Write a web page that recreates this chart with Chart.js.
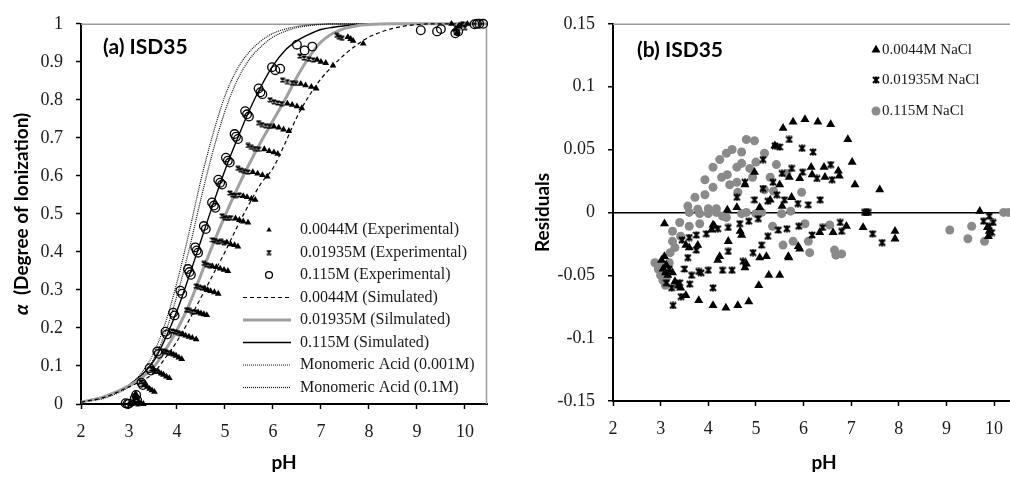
<!DOCTYPE html>
<html>
<head>
<meta charset="utf-8">
<script src="https://cdn.jsdelivr.net/npm/chart.js@4.4.0/dist/chart.umd.min.js"></script>
<style>
html,body{margin:0;padding:0;background:#fff;overflow:hidden;width:1010px;height:477px}
#wrapA{position:absolute;left:0;top:0;width:505px;height:477px}
#wrapB{position:absolute;left:505px;top:0;width:540px;height:477px}
canvas{display:block}
</style>
</head>
<body>
<div id="wrapA"><canvas id="cA" width="505" height="477"></canvas></div>
<div id="wrapB"><canvas id="cB" width="540" height="477"></canvas></div>
<script>
// ---------- axis ticks ----------
const phTicks = [2, 3, 4, 5, 6, 7, 8, 9, 10];
const alphaTicks = [0, 0.1, 0.2, 0.3, 0.4, 0.5, 0.6, 0.7, 0.8, 0.9, 1];
const residualTicks = [-0.15, -0.1, -0.05, 0, 0.05, 0.1, 0.15];

// ---------- (a) simulated curves ----------
const simPH = [2, 2.5, 3, 3.25, 3.5, 3.75, 4, 4.25, 4.5, 4.75, 5, 5.25, 5.5, 5.75, 6, 6.25, 6.5, 6.75, 7, 7.25, 7.5, 7.75, 8, 8.5, 9, 9.5, 10.46];
const sim0044 = [0.005, 0.018, 0.045, 0.06, 0.08, 0.12, 0.165, 0.22, 0.28, 0.34, 0.4, 0.465, 0.525, 0.58, 0.62, 0.685, 0.755, 0.81, 0.855, 0.89, 0.92, 0.945, 0.965, 0.988, 0.998, 1, 1];
const sim01935 = [0.005, 0.02, 0.048, 0.068, 0.095, 0.14, 0.195, 0.26, 0.34, 0.42, 0.495, 0.565, 0.63, 0.69, 0.745, 0.8, 0.86, 0.912, 0.952, 0.975, 0.988, 0.995, 0.998, 1, 1, 1, 1];
const sim0115 = [0.005, 0.02, 0.05, 0.075, 0.11, 0.17, 0.245, 0.335, 0.43, 0.525, 0.615, 0.695, 0.77, 0.835, 0.89, 0.93, 0.955, 0.972, 0.985, 0.991, 0.995, 0.998, 1, 1, 1, 1, 1];
const monoAcid0001 = [0.005, 0.017, 0.05, 0.08, 0.13, 0.21, 0.32, 0.45, 0.59, 0.71, 0.81, 0.88, 0.925, 0.955, 0.975, 0.986, 0.993, 0.997, 0.999, 1, 1, 1, 1, 1, 1, 1, 1];
const monoAcid01 = [0.005, 0.016, 0.045, 0.07, 0.115, 0.185, 0.285, 0.405, 0.54, 0.665, 0.77, 0.85, 0.905, 0.94, 0.965, 0.98, 0.99, 0.995, 0.998, 1, 1, 1, 1, 1, 1, 1, 1];

// ---------- (a) experimental titration points [pH, alpha] ----------
const exp0044 = [
  [3.05,0.0],[3.1,0.005],[3.12,0.02],[3.14,0.027],[3.16,0.015],[3.2,0.005],[3.25,0.002],[3.3,0.0],
  [3.33,0.05],[3.38,0.045],[3.43,0.04],[3.48,0.036],[3.53,0.032],
  [3.62,0.084],[3.67,0.08],[3.72,0.077],[3.78,0.072],[3.84,0.068],
  [3.88,0.133],[3.93,0.13],[3.98,0.127],[4.04,0.122],[4.1,0.118],
  [4.12,0.184],[4.18,0.18],[4.25,0.177],[4.32,0.174],[4.4,0.17],
  [4.44,0.241],[4.5,0.238],[4.56,0.236],[4.62,0.234],
  [4.58,0.304],[4.64,0.3],[4.7,0.297],[4.78,0.294],[4.86,0.29],
  [4.74,0.362],[4.82,0.36],[4.9,0.356],[4.98,0.353],[5.06,0.35],
  [5.04,0.425],[5.12,0.42],[5.2,0.418],[5.27,0.414],
  [5.22,0.488],[5.3,0.484],[5.38,0.48],[5.48,0.477],
  [5.38,0.547],[5.46,0.544],[5.55,0.54],[5.63,0.537],
  [5.58,0.61],[5.68,0.606],[5.78,0.602],[5.88,0.598],
  [5.82,0.67],[5.92,0.665],[6.02,0.662],[6.1,0.658],
  [6.02,0.73],[6.12,0.727],[6.22,0.722],[6.33,0.718],
  [6.3,0.79],[6.4,0.787],[6.5,0.783],[6.6,0.778],
  [6.58,0.842],[6.68,0.838],[6.8,0.834],[6.9,0.83],
  [6.92,0.905],[7.0,0.9],[7.1,0.897],[7.25,0.89],
  [7.56,0.965],[7.62,0.96],[7.67,0.955],[7.88,0.948],
  [9.72,1.0],[9.8,0.985],[9.83,0.975],[9.88,0.995],[10.05,1.0]
];
const exp01935 = [
  [3.02,0.0],[3.08,0.002],[3.13,0.01],[3.18,0.0],
  [3.25,0.058],[3.3,0.052],
  [3.47,0.092],[3.52,0.088],[3.57,0.086],
  [3.72,0.14],[3.77,0.137],[3.82,0.135],
  [3.9,0.192],[3.96,0.19],[4.02,0.188],[4.07,0.185],
  [4.2,0.248],[4.26,0.246],[4.32,0.243],[4.38,0.242],
  [4.4,0.31],[4.46,0.307],[4.52,0.305],
  [4.56,0.37],[4.62,0.366],[4.68,0.364],
  [4.74,0.432],[4.8,0.43],[4.86,0.426],[4.92,0.428],[4.98,0.424],
  [4.94,0.495],[5.0,0.49],[5.06,0.488],[5.12,0.49],
  [5.1,0.555],[5.16,0.55],[5.22,0.548],[5.3,0.55],
  [5.27,0.62],[5.33,0.615],[5.4,0.612],[5.48,0.61],
  [5.48,0.68],[5.55,0.675],[5.62,0.672],[5.7,0.67],
  [5.7,0.74],[5.77,0.735],[5.85,0.732],[5.93,0.73],
  [5.94,0.8],[6.02,0.795],[6.1,0.792],[6.18,0.79],
  [6.2,0.852],[6.3,0.848],[6.4,0.845],[6.48,0.843],
  [6.56,0.915],[6.65,0.91],[6.75,0.907],[6.84,0.905],
  [7.33,0.97],[7.38,0.965],[7.44,0.962],
  [9.82,0.99],[9.86,0.98],[9.9,0.995],[9.95,1.0],[10.0,0.99]
];
const exp0115 = [
  [2.93,0.002],[2.97,0.0],[3.0,0.001],[3.12,0.015],[3.15,0.024],[3.17,0.01],
  [3.26,0.056],[3.29,0.05],[3.43,0.094],[3.46,0.088],[3.59,0.138],[3.62,0.132],
  [3.76,0.19],[3.79,0.183],[3.92,0.24],[3.95,0.233],[4.07,0.298],[4.11,0.29],
  [4.23,0.355],[4.26,0.347],[4.29,0.34],[4.38,0.412],[4.41,0.404],[4.44,0.398],
  [4.56,0.468],[4.6,0.46],[4.73,0.53],[4.77,0.522],[4.8,0.516],
  [4.86,0.59],[4.9,0.582],[4.94,0.577],[5.02,0.648],[5.06,0.64],[5.1,0.635],
  [5.2,0.71],[5.23,0.703],[5.27,0.697],[5.42,0.77],[5.46,0.762],[5.5,0.756],
  [5.7,0.83],[5.74,0.82],[5.78,0.815],[5.98,0.886],[6.05,0.878],[6.15,0.882],
  [6.5,0.945],[6.66,0.93],[6.82,0.94],
  [9.08,0.983],[9.42,0.98],[9.5,0.986],[9.8,0.975],[9.86,0.98],
  [10.2,0.999],[10.25,1.0],[10.3,1.0],[10.38,1.0]
];

// ---------- (b) residuals [pH, residual] ----------
const resid0044 = [
  [3.02,-0.038],[3.05,-0.045],[3.08,-0.035],[3.1,-0.048],[3.12,-0.042],[3.15,-0.05],[3.25,-0.048],[3.3,-0.055],
  [3.42,-0.06],[3.53,-0.066],[3.8,-0.07],[4.1,-0.074],[4.37,-0.076],[4.62,-0.074],[4.85,-0.071],
  [5.06,-0.058],[5.27,-0.05],[5.5,-0.05],[5.69,-0.036],[5.89,-0.027],
  [3.53,-0.026],[3.6,-0.028],[3.78,-0.026],[4.07,-0.014],[4.13,-0.011],[4.2,-0.038],[4.24,-0.035],
  [4.42,-0.023],[4.67,-0.015],[4.7,-0.018],[4.77,-0.044],[4.8,-0.041],[5.08,-0.036],[5.22,-0.035],
  [5.68,-0.035],[5.92,-0.029],[6.34,-0.016],[6.62,-0.016],[6.9,-0.011],[7.25,-0.012],[7.92,-0.015],[7.92,-0.021],
  [3.08,-0.009],[4.1,-0.01],[4.4,0.002],[4.6,0.004],[4.77,0.022],[5.08,0.004],[5.3,0.01],[5.55,0.005],
  [5.75,0.012],[5.4,0.053],[5.5,0.022],[5.7,0.028],[5.92,0.027],[6.16,0.036],[6.18,0.03],[6.43,0.036],
  [6.45,0.028],[6.73,0.033],[6.75,0.029],[4.97,0.032],
  [5.57,0.067],[5.78,0.072],[6.03,0.074],[6.3,0.072],[6.57,0.07],[6.93,0.058],[7.02,0.04],[7.08,0.022],[7.6,0.018],
  [9.7,0.001],[9.86,-0.012],[9.88,-0.019],[9.9,-0.015]
];
const resid01935 = [
  [3.12,-0.056],[3.18,-0.045],[3.23,-0.06],[3.26,-0.074],[3.35,-0.058],[3.4,-0.056],[3.43,-0.067],[3.5,-0.045],
  [3.57,-0.036],[3.61,-0.057],[3.65,-0.05],[3.75,-0.03],[3.8,-0.047],[3.85,-0.048],[4.0,-0.046],[4.1,-0.06],
  [4.3,-0.046],[4.42,-0.031],[4.5,-0.046],[4.73,-0.039],[4.94,-0.032],[5.12,-0.026],[5.25,-0.019],
  [5.47,-0.014],[5.65,-0.013],[5.9,-0.011],[6.18,-0.018],[6.4,-0.012],[6.77,-0.008],[6.8,-0.015],[7.45,-0.017],[7.65,-0.024],
  [3.45,-0.022],[3.6,-0.02],[3.75,-0.018],[3.96,-0.017],[4.2,-0.013],[4.42,-0.012],[4.66,-0.009],[4.85,-0.007],
  [5.05,-0.005],[5.25,0.009],[5.44,0.014],[5.6,0.01],[4.6,0.012],[4.77,0.024],[4.97,0.01],[5.15,0.019],
  [5.36,0.024],[5.55,0.031],[5.75,0.035],[5.98,0.032],[5.15,0.042],[5.4,0.053],[5.5,0.052],[5.7,0.058],
  [5.97,0.051],[6.2,0.048],[6.57,0.038],[6.6,0.026],[6.28,0.027],[5.88,0.007],[6.1,0.006],[6.35,0.01],
  [7.28,0.0],[7.32,0.0],[7.36,0.0],
  [9.78,-0.007],[9.9,-0.003],[9.98,-0.008],[9.9,-0.011],[9.95,-0.016]
];
const resid0115 = [
  [2.88,-0.04],[2.95,-0.045],[3.0,-0.05],[3.02,-0.042],[3.05,-0.054],[3.08,-0.048],[3.1,-0.044],[3.12,-0.052],
  [3.15,-0.046],[3.18,-0.04],[3.1,-0.058],
  [3.2,-0.032],[3.25,-0.023],[3.25,-0.015],[3.3,-0.028],[3.4,-0.008],[3.42,-0.019],[3.57,0.005],[3.6,-0.011],
  [3.6,0.0],[3.72,0.012],[3.78,0.0025],[3.82,-0.009],[3.82,-0.001],[3.93,0.026],[3.93,0.014],[4.0,0.003],
  [4.0,-0.001],[4.1,0.036],[4.1,0.02],[4.17,0.003],[4.17,0.0],[4.24,0.042],[4.28,0.028],[4.3,-0.003],
  [4.38,0.047],[4.4,0.03],[4.38,-0.004],[4.45,0.022],[4.5,0.05],[4.6,0.024],[4.6,0.036],[4.62,0.016],
  [4.7,0.048],[4.7,0.039],[4.7,-0.001],[4.8,0.058],[4.8,0.0],[4.87,0.035],[4.93,0.028],[4.97,0.057],
  [5.0,0.04],[5.0,-0.001],[5.05,-0.001],[5.12,0.0],[5.18,0.047],[5.18,0.018],[5.3,0.028],[5.37,0.017],
  [5.43,0.038],[5.35,-0.011],[5.54,-0.001],[5.57,-0.026],[5.65,0.031],[5.73,0.001],[5.78,-0.023],
  [5.96,0.016],[6.03,-0.009],[6.1,-0.023],[6.13,-0.032],[6.55,-0.01],[6.65,-0.03],[6.68,-0.034],[6.8,-0.033],
  [9.07,-0.014],[9.45,-0.021],[9.53,-0.011],[9.8,-0.023],[10.2,0.0],[10.3,0.0]
];

// ---------- helpers ----------
const xy = (pairs) => pairs.map(p => ({x: p[0], y: p[1]}));
const curve = (ys) => simPH.map((x, i) => ({x, y: ys[i]}));
const setTicks = (arr) => (scale) => { scale.ticks = arr.map(v => ({value: v})); };

// Excel-style "star" marker: an x with a vertical bar through it
function starMarker(size, lw) {
  const c = document.createElement('canvas');
  c.width = size; c.height = size;
  const g = c.getContext('2d');
  g.strokeStyle = '#000'; g.lineWidth = lw; g.lineCap = 'butt';
  const m = lw / 2;
  g.beginPath();
  g.moveTo(m, m); g.lineTo(size - m, size - m);
  g.moveTo(size - m, m); g.lineTo(m, size - m);
  g.moveTo(size / 2, 0.5); g.lineTo(size / 2, size - 0.5);
  g.stroke();
  return c;
}
const starSmall = starMarker(6, 1.6);
const starBig = starMarker(8, 2);

const SERIF = '"Liberation Serif", "Times New Roman", serif';
const SANS = 'Lato, "Open Sans", "Liberation Sans", sans-serif';
const INK = '#1a1a1a';

function axisCommon(ticksArr, fmt, pad) {
  return {
    type: 'linear',
    afterBuildTicks: setTicks(ticksArr),
    border: {display: true, color: '#000', width: 2},
    grid: {drawOnChartArea: false, drawTicks: true, tickLength: 5, tickColor: '#000', tickWidth: 1.5},
    ticks: {color: INK, font: {family: SERIF, size: 18}, padding: pad, callback: fmt, maxRotation: 0, autoSkip: false}
  };
}

// ---------- panel (a) ----------
const legendA = [
  {label: '0.0044M (Experimental)', ds: 0},
  {label: '0.01935M (Experimental)', ds: 1},
  {label: '0.115M (Experimental)', ds: 2},
  {label: '0.0044M (Simulated)', ds: 3},
  {label: '0.01935M (Silmulated)', ds: 4},
  {label: '0.115M (Simulated)', ds: 5},
  {label: 'Monomeric Acid (0.001M)', ds: 6},
  {label: 'Monomeric Acid (0.1M)', ds: 7}
];

function drawMarker(ctx, ds, x, y, scale) {
  const st = ds.pointStyle;
  const r = (ds.pointRadius || 3) * scale;
  ctx.save();
  if (st instanceof HTMLCanvasElement) {
    ctx.drawImage(st, x - st.width / 2, y - st.height / 2);
  } else if (st === 'triangle') {
    ctx.fillStyle = ds.backgroundColor;
    ctx.beginPath();
    ctx.moveTo(x, y - r);
    ctx.lineTo(x + r * Math.sin(Math.PI / 3), y + r / 2);
    ctx.lineTo(x - r * Math.sin(Math.PI / 3), y + r / 2);
    ctx.closePath(); ctx.fill();
  } else {
    ctx.beginPath(); ctx.arc(x, y, r, 0, Math.PI * 2);
    if (ds.backgroundColor && ds.backgroundColor !== 'transparent') { ctx.fillStyle = ds.backgroundColor; ctx.fill(); }
    if (ds.borderWidth) { ctx.strokeStyle = ds.borderColor; ctx.lineWidth = ds.borderWidth; ctx.stroke(); }
  }
  ctx.restore();
}

const decorA = {
  id: 'decorA',
  beforeDatasetsDraw(chart) {
    const {ctx, chartArea: a} = chart;
    ctx.save();
    ctx.strokeStyle = '#9a9a9a'; ctx.lineWidth = 1.5;
    ctx.beginPath();
    ctx.moveTo(a.left, a.top + 0.5); ctx.lineTo(a.right - 0.5, a.top + 0.5); ctx.lineTo(a.right - 0.5, a.bottom);
    ctx.stroke();
    ctx.restore();
  },
  afterDraw(chart) {
    const {ctx, chartArea: a} = chart;
    ctx.save();
    // panel label
    ctx.fillStyle = '#000';
    ctx.font = 'bold 21px ' + SANS;
    ctx.textBaseline = 'middle'; ctx.textAlign = 'left';
    ctx.fillText('(a) ISD35', 103, 47);
    // x title
    ctx.font = 'bold 19px ' + SANS; ctx.textAlign = 'center';
    ctx.fillText('pH', (a.left + a.right) / 2, 463);
    // y title, rotated
    ctx.translate(22, (a.top + a.bottom) / 2);
    ctx.rotate(-Math.PI / 2);
    const fA = 'italic bold 19px ' + SANS, fB = 'bold 19px ' + SANS;
    const p1 = '\u03b1', p2 = '  (Degree of Ionization)';
    ctx.font = fA; const w1 = ctx.measureText(p1).width;
    ctx.font = fB; const w2 = ctx.measureText(p2).width;
    ctx.textAlign = 'left';
    ctx.font = fA; ctx.fillText(p1, -(w1 + w2) / 2, 0);
    ctx.font = fB; ctx.fillText(p2, -(w1 + w2) / 2 + w1, 0);
    ctx.restore();

    // legend
    ctx.save();
    const rowY = [230, 252.5, 275, 297.5, 320, 342.5, 365, 387.5];
    ctx.font = '16px ' + SERIF; ctx.fillStyle = INK; ctx.textBaseline = 'middle'; ctx.textAlign = 'left';
    legendA.forEach((e, i) => {
      const ds = chart.data.datasets[e.ds];
      const y = rowY[i];
      if (ds.showLine) {
        ctx.save();
        ctx.strokeStyle = ds.borderColor; ctx.lineWidth = ds.borderWidth;
        ctx.setLineDash(ds.borderDash || []);
        ctx.beginPath(); ctx.moveTo(243, y); ctx.lineTo(291, y); ctx.stroke();
        ctx.restore();
      } else {
        drawMarker(ctx, ds, 269, y, 0.8);
      }
      ctx.fillText(e.label, 300, y);
    });
    ctx.restore();
  }
};

const pointSet = (data, extra) => Object.assign({showLine: false, clip: false, data: xy(data), pointHoverRadius: 0}, extra);
const lineSet = (ys, extra) => Object.assign({showLine: true, data: curve(ys), pointRadius: 0, pointHoverRadius: 0,
  cubicInterpolationMode: 'monotone', fill: false, clip: 3}, extra);

new Chart(document.getElementById('cA'), {
  type: 'scatter',
  data: {
    datasets: [
      pointSet(exp0044, {label: '0.0044M (Experimental)', pointStyle: 'triangle', pointRadius: 3.9, backgroundColor: '#000', borderColor: '#000', borderWidth: 0}),
      pointSet(exp01935, {label: '0.01935M (Experimental)', pointStyle: starSmall, pointRadius: 3, backgroundColor: '#000', borderColor: '#000', borderWidth: 0}),
      pointSet(exp0115, {label: '0.115M (Experimental)', pointStyle: 'circle', pointRadius: 4.3, backgroundColor: 'transparent', borderColor: '#000', borderWidth: 1.3}),
      lineSet(sim0044, {label: '0.0044M (Simulated)', borderColor: '#000', borderWidth: 1.2, borderDash: [4, 3]}),
      lineSet(sim01935, {label: '0.01935M (Silmulated)', borderColor: '#a0a0a0', borderWidth: 3}),
      lineSet(sim0115, {label: '0.115M (Simulated)', borderColor: '#000', borderWidth: 1.4}),
      lineSet(monoAcid0001, {label: 'Monomeric Acid (0.001M)', borderColor: '#111', borderWidth: 1.2, borderDash: [1, 1]}),
      lineSet(monoAcid01, {label: 'Monomeric Acid (0.1M)', borderColor: '#111', borderWidth: 1.2, borderDash: [1, 1]})
    ]
  },
  options: {
    responsive: false, animation: false, devicePixelRatio: 1,
    layout: {padding: {left: 0, right: 18, top: 15, bottom: 0}},
    plugins: {legend: {display: false}, tooltip: {enabled: false}},
    events: [],
    scales: {
      x: Object.assign(axisCommon(phTicks, v => String(v), 12), {min: 2, max: 10.46, afterFit: s => { s.height = 73; }}),
      y: Object.assign(axisCommon(alphaTicks, v => (v === 0 || v === 1) ? String(v) : v.toFixed(1), 13), {min: 0, max: 1, afterFit: s => { s.width = 81; }})
    }
  },
  plugins: [decorA]
});

// ---------- panel (b) ----------
const legendB = [
  {label: '0.0044M NaCl', ds: 0, y: 50},
  {label: '0.01935M NaCl', ds: 1, y: 80},
  {label: '0.115M NaCl', ds: 2, y: 111}
];
const decorB = {
  id: 'decorB',
  beforeDatasetsDraw(chart) {
    const {ctx, chartArea: a} = chart;
    ctx.save();
    ctx.strokeStyle = '#9a9a9a'; ctx.lineWidth = 1.5;
    ctx.beginPath(); ctx.moveTo(a.left, a.top + 0.5); ctx.lineTo(a.right, a.top + 0.5); ctx.stroke();
    ctx.restore();
  },
  afterDraw(chart) {
    const {ctx, chartArea: a} = chart;
    const ox = 505;
    ctx.save();
    ctx.fillStyle = '#000'; ctx.textBaseline = 'middle';
    ctx.font = 'bold 21px ' + SANS; ctx.textAlign = 'left';
    ctx.fillText('(b) ISD35', 637 - ox, 50);
    ctx.font = 'bold 19px ' + SANS; ctx.textAlign = 'center';
    ctx.fillText('pH', 824 - ox, 463);
    ctx.translate(543 - ox, (a.top + a.bottom) / 2);
    ctx.rotate(-Math.PI / 2);
    ctx.fillText('Residuals', 0, 0);
    ctx.restore();

    ctx.save();
    ctx.font = '15px ' + SERIF; ctx.fillStyle = INK; ctx.textBaseline = 'middle'; ctx.textAlign = 'left';
    legendB.forEach(e => {
      const ds = chart.data.datasets[e.ds];
      drawMarker(ctx, ds, 876 - ox, e.y, 1);
      ctx.fillText(e.label, 882 - ox, e.y);
    });
    ctx.restore();
  }
};

new Chart(document.getElementById('cB'), {
  type: 'scatter',
  data: {
    datasets: [
      pointSet(resid0044, {label: '0.0044M NaCl', pointStyle: 'triangle', pointRadius: 5.2, backgroundColor: '#000', borderColor: '#000', borderWidth: 0}),
      pointSet(resid01935, {label: '0.01935M NaCl', pointStyle: starBig, pointRadius: 4, backgroundColor: '#000', borderColor: '#000', borderWidth: 0}),
      pointSet(resid0115, {label: '0.115M NaCl', pointStyle: 'circle', pointRadius: 4.5, backgroundColor: '#8a8a8a', borderColor: '#8a8a8a', borderWidth: 0})
    ]
  },
  options: {
    responsive: false, animation: false, devicePixelRatio: 1,
    layout: {padding: {left: 0, right: 9, top: 15, bottom: 0}},
    plugins: {legend: {display: false}, tooltip: {enabled: false}},
    events: [],
    scales: {
      x: Object.assign(axisCommon(phTicks, v => String(v), 12), {min: 2, max: 10.88, afterFit: s => { s.height = 76; }}),
      y: (() => {
        const ax = axisCommon(residualTicks, v => String(v), 13);
        ax.min = -0.15; ax.max = 0.15;
        ax.afterFit = s => { s.width = 108; };
        ax.grid = {drawOnChartArea: true, drawTicks: true, tickLength: 5, tickColor: '#000', tickWidth: 1.5,
          color: c => (c.tick && c.tick.value === 0) ? '#000' : 'rgba(0,0,0,0)', lineWidth: 1.5};
        return ax;
      })()
    }
  },
  plugins: [decorB]
});
</script>
</body>
</html>
